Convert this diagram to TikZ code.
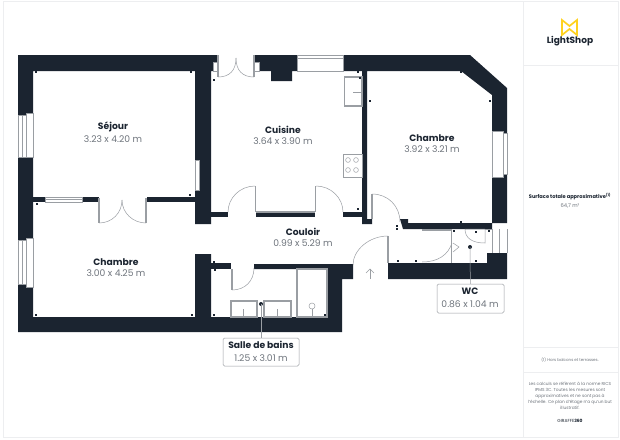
\documentclass[tikz,border=0pt]{standalone}
\usepackage{fontspec}
\setmainfont{Poppins}
\usepackage{xcolor}
\usetikzlibrary{positioning}
\definecolor{wallblue}{HTML}{1B2430}
\definecolor{fixgrey}{HTML}{9A9EA3}
\definecolor{dimgrey}{HTML}{6E747C}
\definecolor{framegrey}{HTML}{EDEEF0}
\definecolor{logoyellow}{HTML}{FFD21F}
\tikzset{
    wall/.style={fill=wallblue},
    thinline/.style={draw=fixgrey, line width=0.5pt},
    thickline/.style={draw=fixgrey, line width=1.1pt},
    pane/.style={fill=white, draw=fixgrey, line width=0.4pt},
    framerule/.style={draw=framegrey, line width=0.7pt},
    roomname/.style={font=\fontsize{9.2}{11}\selectfont\bfseries, text=wallblue, inner sep=0pt},
    roomsize/.style={font=\fontsize{9.2}{11}\selectfont, text=dimgrey, inner sep=0pt},
    tagbox/.style={draw=fixgrey, rounded corners=1.5pt, fill=white, line width=0.5pt},
    sidetext/.style={text=dimgrey, inner sep=0pt, align=center}
}
\begin{document}
\begin{tikzpicture}[x=1pt, y=-1pt]
    \useasboundingbox (0,0) rectangle (620,439);
    \fill[white] (0,0) rectangle (620,439);

    % page frame and side panel
    \draw[framerule] (3,1) rectangle (618,437);
    \draw[framerule] (523,1) -- (523,437);
    \draw[framerule] (523,65) -- (618,65);
    \draw[framerule] (523,347) -- (618,347);
    \draw[framerule] (523,372) -- (618,372);

    % outer walls
    \fill[wall] (18,55) -- (217,55) -- (217,71) -- (211,71) -- (211,224) -- (195,224)
        -- (195,71) -- (33,71) -- (33,317) -- (195,317) -- (195,254) -- (211,254)
        -- (211,317) -- (327,317) -- (327,269) -- (254,269) -- (254,264) -- (353,264)
        -- (353,279) -- (342,279) -- (342,332) -- (18,332) -- cycle;
    \fill[wall] (254,55) -- (470,55) -- (507,88) -- (507,223) -- (408,223) -- (408,219)
        -- (400,219) -- (403,229) -- (492,229) -- (492,95) -- (461,71) -- (367,71)
        -- (367,219) -- (372,219) -- (372,224) -- (362,224) -- (362,71) -- (292,71)
        -- (292,81) -- (271,81) -- (271,71) -- (254,71) -- cycle;
    \fill[wall] (388,263) -- (487,263) -- (487,253) -- (507,253) -- (507,279) -- (388,279) -- cycle;

    % inner walls
    \fill[wall] (33,197) rectangle (99,202);
    \fill[wall] (147,197) rectangle (195,202);
    \fill[wall] (211,212) rectangle (228,217);
    \fill[wall] (256,212) rectangle (315,217);
    \fill[wall] (343,212) rectangle (362,217);
    \fill[wall] (211,263) rectangle (231,269);

    % windows
    \fill[pane] (18,115) rectangle (26,157);
    \fill[pane] (26,113) rectangle (33,157);
    \draw[thinline] (22,115) -- (22,157);
    \fill[pane] (18,240) rectangle (26,284);
    \fill[pane] (26,238) rectangle (33,287);
    \draw[thinline] (22,240) -- (22,284);
    \fill[pane] (45,197) rectangle (82,202);
    \draw[thinline] (45,199.5) -- (82,199.5);
    \fill[pane] (195,160) rectangle (199,190);
    \fill[pane] (297,55) rectangle (343,71);
    \draw[thinline] (297,58) -- (343,58);
    \fill[pane] (492,131) rectangle (503,177);
    \fill[pane] (503,133) rectangle (507,174);
    \fill[white] (492,229) rectangle (507,253);
    \foreach \wx in {492,499,507} {
        \draw[thinline] (\wx,229) -- (\wx,253);
    }
    \fill[pane] (213,62) rectangle (217,71);
    \fill[pane] (254,62) rectangle (259,71);

    % doors
    \draw[thickline] (218,55) -- (218,77);
    \draw[thickline] (254,55) -- (254,77);
    \draw[thinline] (218,77) .. controls (230,77) and (236,70) .. (236,58);
    \draw[thinline] (254,77) .. controls (242,77) and (236,70) .. (236,58);
    \draw[thickline] (99,198) -- (99,223);
    \draw[thickline] (146,198) -- (146,223);
    \draw[thinline] (99,223) .. controls (112,223) and (122,213) .. (122,200);
    \draw[thinline] (146,223) .. controls (133,223) and (122,213) .. (122,200);
    \draw[thickline] (255.5,186) -- (255.5,212);
    \draw[thickline] (315.5,186) -- (315.5,212);
    \draw[thickline] (256,212) -- (315,212);
    \draw[thinline] (255,186) .. controls (240,186) and (228,198) .. (228,212);
    \draw[thinline] (316,186) .. controls (331,186) and (343,198) .. (343,212);
    \draw[thickline] (372,194) -- (372,219);
    \draw[thinline] (372,194) .. controls (388,194) and (400,206) .. (400,222);
    \draw[thickline] (232,269) -- (232,290);
    \draw[thinline] (232,290) .. controls (245,290) and (254,281) .. (254,268);
    \draw[thickline] (388,236) -- (388,263);
    \draw[thinline] (388,236) .. controls (369,236) and (353,250) .. (353,265);
    \draw[thinline] (422,262) .. controls (438,262) and (448,255) .. (452,243);
    \draw[thinline] (370,269) -- (370,279);
    \draw[thinline] (366,273) -- (370,269) -- (374,273);
    \draw[thinline] (453,243) -- (459,247) -- (453,252);

    % kitchen fittings
    \draw[thickline] (344.5,77) rectangle (362,106);
    \draw[thinline] (353,92) -- (362,92);
    \draw[thinline] (343,154) rectangle (362,177);
    \foreach \cx in {348,356} {
        \foreach \cy in {160,170} {
            \draw[thinline] (\cx,\cy) circle (2.4);
        }
    }

    % bathroom fittings
    \draw[thickline] (231,301) rectangle (257,317);
    \draw[thinline] (243.5,309) -- (243.5,317);
    \draw[thickline] (264,301) rectangle (291,317);
    \draw[thinline] (277.5,309) -- (277.5,317);
    \draw[thickline] (297,269) rectangle (327,317);
    \draw[thinline] (312,306) circle (3);
    \draw[thinline] (312,309) -- (312,317);

    % WC fittings
    \draw[thickline] (422,230) -- (452,230);
    \draw[thinline] (451.5,229) -- (451.5,263);
    \draw[thinline] (485,229) -- (465,229) .. controls (465,238) and (472,243) .. (485,243) -- (485,229);
    \draw[thinline] (485,229) -- (492,229);

    % corner marks
    \foreach \mx/\my in {36/72, 191/72, 190/195, 37/204, 36/315, 192/315, 214/80, 214/262,
        215/270, 214/315, 325/315, 358/72, 360/78, 358/209, 370/101, 461/72, 490/101, 461/222,
        397/226, 397/229, 454/231, 476/232, 489/231, 398/261, 416/261, 476/261} {
        \fill[wallblue] (\mx-0.6,\my-0.7) rectangle (\mx+0.6,\my+0.7);
    }

    % rooms
    \node[roomname] (sejour) at (113,127) {Séjour};
    \node[roomsize, below=3.5pt of sejour] (sejoursize) {3.23 x 4.20 m};
    \node[roomname] (cuisine) at (283,130) {Cuisine};
    \node[roomsize, below=3.5pt of cuisine] (cuisinesize) {3.64 x 3.90 m};
    \node[roomname] (chambreest) at (432,138) {Chambre};
    \node[roomsize, below=3.5pt of chambreest] (chambreestsize) {3.92 x 3.21 m};
    \node[roomname] (chambre) at (116,262) {Chambre};
    \node[roomsize, below=3.5pt of chambre] (chambresize) {3.00 x 4.25 m};
    \node[roomname] (couloir) at (303,232) {Couloir};
    \node[roomsize, below=3.5pt of couloir] (couloirsize) {0.99 x 5.29 m};

    % tags
    \node[tagbox, minimum width=76pt, minimum height=28pt] (bainstag) at (261,352) {};
    \node[roomname] (bains) at (261,345) {Salle de bains};
    \node[roomsize] (bainssize) at (261,358) {1.25 x 3.01 m};
    \coordinate (bainsdot) at (261,304);
    \fill[wallblue] (bainsdot) circle (2);
    \draw[thinline] (bainsdot) -- (bainstag);
    \node[tagbox, minimum width=67pt, minimum height=29pt] (wctag) at (470.5,298.5) {};
    \node[roomname] (wc) at (470,291.5) {WC};
    \node[roomsize] (wcsize) at (470,304.5) {0.86 x 1.04 m};
    \coordinate (wcdot) at (470,247);
    \fill[wallblue] (wcdot) circle (2);
    \draw[thinline] (wcdot) -- (wctag);

    % side panel
    \draw[logoyellow, line width=1.7pt, miter limit=10] (562,20) -- (569.5,26) -- (577,20)
        -- (577,35) -- (569.5,29) -- (562,35) -- cycle;
    \node[font=\fontsize{9}{11}\selectfont\bfseries, text=wallblue, inner sep=0pt] (logoname) at (570,41.5) {LightShop};
    \node[font=\fontsize{5.1}{6}\selectfont\bfseries, text=wallblue, inner sep=0pt] (surface) at (570,197) {Surface totale approximative\textsuperscript{(1)}};
    \node[sidetext, font=\fontsize{5.2}{6}\selectfont, below=3pt of surface] (surfacesize) {64,7 m²};
    \node[sidetext, font=\fontsize{4}{5}\selectfont] (balcons) at (570,360) {(1) Hors balcons et terrasses.};
    \node[sidetext, font=\fontsize{4.3}{6.1}\selectfont] (calculs) at (570,396) {Les calculs se réfèrent à la norme RICS\\IPMS 3C. Toutes les mesures sont\\approximatives et ne sont pas à\\l'échelle. Ce plan d'étage n'a qu'un but\\illustratif.};
    \node[font=\fontsize{4.4}{5}\selectfont, text=wallblue, inner sep=0pt] (giraffe) at (570,421) {GIRAFFE\textbf{360}};
\end{tikzpicture}
\end{document}
